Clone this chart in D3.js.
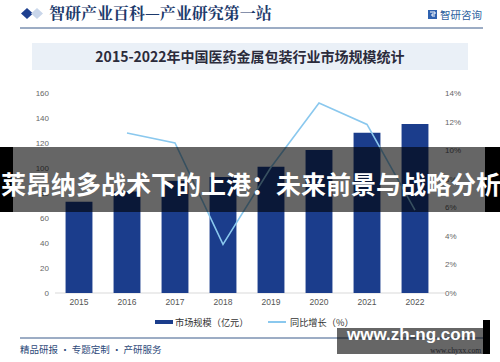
<!DOCTYPE html>
<html>
<head>
<meta charset="utf-8">
<script src="https://cdn.jsdelivr.net/npm/d3@7"></script>
<style>
  body { margin: 0; background: #fff; }
  svg { display: block; font-family: "Noto Sans CJK SC", "Noto Sans", sans-serif; }
</style>
</head>
<body>
<div class="chart"></div>
<script>
// data
var years = ["2015", "2016", "2017", "2018", "2019", "2020", "2021", "2022"];
var marketSize = [73, 81.2, 89.7, 92.8, 101, 114.4, 128.2, 135.2];   // 亿元
var growth = [null, 11.2, 10.5, 3.4, 8.8, 13.3, 11.8, 5.8];           // %
var leftTicks = [0, 20, 40, 60, 80, 100, 120, 140, 160];
var rightTicks = [0, 2, 4, 6, 8, 10, 12, 14];

var W = 500, H = 362;
var navy = "#1b3d8c", lineBlue = "#8ac8ee";

var svg = d3.select('.chart')
  .append('svg')
  .attr('width', W)
  .attr('height', H);

// ---- header
svg.append('path')
  .attr('d', 'M27,8 L33,13.5 L27,19 L21,13.5 Z')
  .attr('fill', '#1d3f8f');
svg.append('path')
  .attr('d', 'M37,8 L43,13.5 L37,19 L31,13.5 Z')
  .attr('fill', '#c9d6ea');
svg.append('text')
  .attr('x', 49).attr('y', 19)
  .attr('font-size', 16).attr('font-weight', 'bold')
  .attr('fill', '#1d3a6b')
  .style('font-family', '"Noto Serif CJK SC", "Noto Sans CJK SC", serif')
  .text('智研产业百科—产业研究第一站');

// small logo top right
svg.append('rect').attr('x', 428).attr('y', 10).attr('width', 9).attr('height', 9).attr('fill', '#2f62b0');
svg.append('path').attr('d', 'M430,12 h5 v2 h-3 v2 h3').attr('stroke', '#fff').attr('fill', 'none').attr('stroke-width', 1);
svg.append('text')
  .attr('x', 440).attr('y', 18.5)
  .attr('font-size', 10.5)
  .attr('fill', '#2e5f9e')
  .text('智研咨询');

svg.append('line')
  .attr('x1', 20).attr('x2', 483).attr('y1', 28).attr('y2', 28)
  .attr('stroke', '#3a5a8a').attr('stroke-width', 1);

// ---- title box
svg.append('rect')
  .attr('x', 32).attr('y', 43).attr('width', 436).attr('height', 27)
  .attr('fill', '#eaf0f7');
svg.append('text')
  .attr('x', 250).attr('y', 62)
  .attr('text-anchor', 'middle')
  .attr('font-size', 14).attr('font-weight', 'bold')
  .attr('fill', '#2b2b3b')
  .text('2015-2022年中国医药金属包装行业市场规模统计');

// ---- scales
var x = d3.scaleBand().domain(years).range([55, 439]).paddingInner(0.44).paddingOuter(0.22);
var yL = d3.scaleLinear().domain([0, 160]).range([293, 93]);
var yR = d3.scaleLinear().domain([0, 14]).range([293, 93]);

// baseline
svg.append('line')
  .attr('x1', 55).attr('x2', 445).attr('y1', yL(0)).attr('y2', yL(0))
  .attr('stroke', '#d9d9d9');

// left axis
var axL = svg.append('g')
  .attr('transform', 'translate(49,0)')
  .call(d3.axisLeft(yL).tickValues(leftTicks).tickSize(0).tickPadding(0));
axL.select('.domain').remove();
axL.selectAll('text').attr('font-size', 8).attr('fill', '#666').style('font-family', '"Liberation Sans", Arial, sans-serif');

// right axis
var axR = svg.append('g')
  .attr('transform', 'translate(445,0)')
  .call(d3.axisRight(yR).tickValues(rightTicks).tickSize(0).tickPadding(0).tickFormat(function(d) { return d + '%'; }));
axR.select('.domain').remove();
axR.selectAll('text').attr('font-size', 8).attr('fill', '#666').style('font-family', '"Liberation Sans", Arial, sans-serif');

// x axis
var axX = svg.append('g')
  .attr('transform', 'translate(0,' + 297 + ')')
  .call(d3.axisBottom(x).tickSize(0).tickPadding(0));
axX.select('.domain').remove();
axX.selectAll('text').attr('font-size', 8.5).attr('fill', '#555').attr('dy', '0.9em').style('font-family', '"Liberation Sans", Arial, sans-serif');

// bars
svg.selectAll('.bar')
  .data(marketSize)
  .enter()
  .append('rect')
  .attr('class', 'bar')
  .attr('x', function(d, i) { return x(years[i]); })
  .attr('width', x.bandwidth())
  .attr('y', function(d) { return yL(d); })
  .attr('height', function(d) { return yL(0) - yL(d); })
  .attr('fill', navy);

// growth line
var line = d3.line()
  .defined(function(d) { return d != null; })
  .x(function(d, i) { return x(years[i]) + x.bandwidth() / 2; })
  .y(function(d) { return yR(d); });
svg.append('path')
  .datum(growth)
  .attr('d', line)
  .attr('fill', 'none')
  .attr('stroke', lineBlue)
  .attr('stroke-width', 1.6);

// legend
svg.append('rect').attr('x', 155).attr('y', 320).attr('width', 18).attr('height', 4).attr('fill', navy);
svg.append('text').attr('x', 175).attr('y', 325.5).attr('font-size', 9.2).attr('fill', '#333').text('市场规模（亿元）');
svg.append('line').attr('x1', 268).attr('x2', 286).attr('y1', 322).attr('y2', 322).attr('stroke', lineBlue).attr('stroke-width', 2);
svg.append('text').attr('x', 290).attr('y', 325.5).attr('font-size', 9.2).attr('fill', '#333').text('同比增长（%）');

// footer
svg.append('line')
  .attr('x1', 20).attr('x2', 483).attr('y1', 338).attr('y2', 338)
  .attr('stroke', '#3a5a8a').attr('stroke-width', 1);
svg.append('text')
  .attr('x', 20).attr('y', 353)
  .attr('font-size', 9.5)
  .attr('fill', '#2e4a7a')
  .text('精品研报 · 专题定制 · 产研服务');
svg.append('text')
  .attr('x', 481).attr('y', 353)
  .attr('text-anchor', 'end')
  .attr('font-size', 7.5)
  .attr('fill', '#556')
  .style('font-family', '"Liberation Serif", serif')
  .text('www.chyxx.com');

// ---- overlay banner
svg.append('rect').attr('x', 0).attr('y', 147).attr('width', W).attr('height', 65).attr('fill', '#000').attr('fill-opacity', 0.6);
svg.append('rect').attr('x', 0).attr('y', 147).attr('width', 13).attr('height', 65).attr('fill', '#000');
svg.append('rect').attr('x', 485).attr('y', 147).attr('width', 15).attr('height', 65).attr('fill', '#000');
svg.append('text')
  .attr('x', 1).attr('y', 194)
  .attr('font-size', 25).attr('font-weight', 'bold')
  .attr('fill', '#fff')
  .text('莱昂纳多战术下的上港：未来前景与战略分析');

// ---- bottom right url box
svg.append('rect').attr('x', 337).attr('y', 328).attr('width', 146).attr('height', 26).attr('fill', '#000').attr('fill-opacity', 0.6);
svg.append('rect').attr('x', 483).attr('y', 320).attr('width', 7).attr('height', 34).attr('fill', '#000');
svg.append('text')
  .attr('x', 347).attr('y', 340)
  .attr('font-size', 17).attr('font-weight', 'bold')
  .attr('fill', '#fff')
  .style('font-family', '"Liberation Sans", Arial, sans-serif')
  .text('www.zh-ng.com');
</script>
</body>
</html>
